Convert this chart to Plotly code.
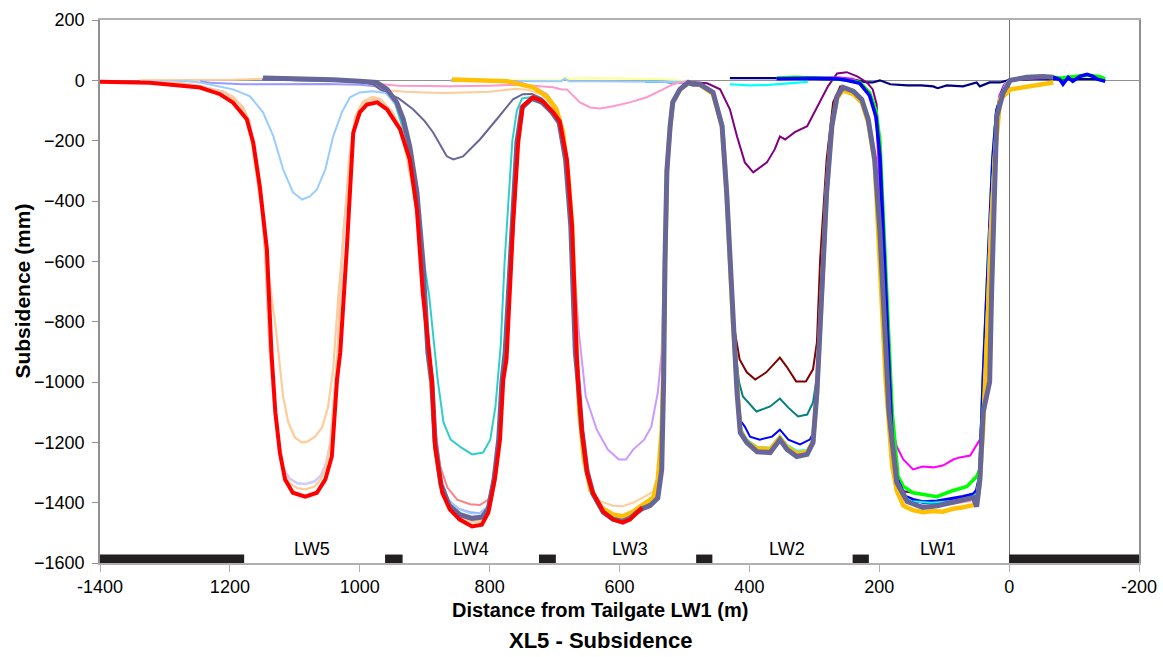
import plotly.graph_objects as go

# ---------------- data (distance m, subsidence mm) ----------------
navy_pts = [(430,7),(400,8),(358,7),(300,5),(265,2),(250,0),(234,0),(219,-7),(210,-7),(199,0),(183,-13),(157,-17),(135,-17),(117,-20),(110,-26),(96,-17),(71,-20),(50,-7),(45,-20),(30,-7),(14,-7),(2,0),(-20,3),(-50,5),(-80,3),(-110,5),(-140,3)]
cyan1_pts = [(430,-13),(400,-17),(370,-15),(340,-10),(310,-5)]
purple_pts = [(507,-3),(465,-10),(445,-30),(430,-96),(419,-186),(407,-272),(394,-305),(373,-272),(361,-229),(353,-186),(345,-196),(330,-172),(311,-152),(304,-123),(291,-73),(279,-20),(265,23),(250,27),(234,13),(219,-7),(210,-30),(204,-80),(199,-300),(190,-900),(180,-1250),(170,-1360),(148,-1367),(133,-1373),(111,-1380),(91,-1363),(65,-1346),(50,-1313),(45,-1290),(40,-1000),(30,-500),(25,-262),(19,-100),(9,-30),(0,0)]
magenta_pts = [(358,5),(300,8),(265,10),(240,5),(225,-20),(212,-60),(204,-150),(199,-370),(190,-800),(180,-1150),(173,-1214),(163,-1257),(148,-1290),(133,-1280),(117,-1283),(102,-1277),(86,-1257),(76,-1250),(60,-1244),(45,-1191),(40,-1048),(35,-800),(28,-400),(22,-150),(15,-50),(8,-15),(0,0),(-30,5),(-60,8)]
green_pts = [(358,8),(330,10),(300,8),(280,7),(265,5),(250,0),(230,-7),(215,-40),(205,-100),(199,-200),(190,-600),(180,-1100),(171,-1313),(163,-1346),(148,-1367),(133,-1373),(111,-1380),(91,-1363),(65,-1346),(50,-1313),(45,-1290),(40,-1000),(30,-500),(25,-262),(19,-100),(9,-30),(0,0),(-20,8),(-40,10),(-60,12),(-80,8),(-100,12),(-120,18),(-140,12),(-148,5)]
bluethick_pts = [(358,5),(300,7),(265,5),(250,0),(230,-10),(215,-50),(205,-120),(199,-250),(190,-700),(180,-1200),(173,-1320),(160,-1380),(148,-1390),(133,-1398),(111,-1395),(91,-1388),(71,-1380),(55,-1372),(50,-1360),(45,-1310),(40,-1000),(30,-500),(25,-262),(19,-100),(9,-30),(0,0),(-27,10),(-52,13),(-68,10),(-78,3),(-83,-13),(-91,10),(-98,-3),(-109,13),(-120,20),(-129,13),(-137,3),(-148,-3)]
darkred_pts = [(560,-3),(520,-5),(500,-8),(476,-13),(456,-40),(442,-152),(435,-371),(425,-800),(415,-925),(404,-968),(391,-992),(374,-968),(353,-919),(343,-948),(328,-998),(313,-998),(302,-958),(296,-869),(291,-594),(281,-262),(271,-73),(260,-20),(245,-30),(230,-55),(217,-125),(207,-260),(199,-600),(190,-1000),(182,-1250),(172,-1370),(150,-1395),(120,-1400),(90,-1395),(60,-1385),(50,-1370),(45,-1300),(38,-1000),(30,-500),(22,-200),(15,-60),(5,-10),(0,0)]
teal_pts = [(560,-3),(520,-5),(500,-8),(476,-13),(456,-40),(442,-152),(435,-371),(425,-816),(416,-1000),(410,-1048),(402,-1068),(389,-1098),(368,-1081),(353,-1055),(340,-1085),(325,-1114),(311,-1108),(302,-1068),(296,-982),(291,-816),(281,-371),(273,-152),(265,-53),(256,-23),(240,-36),(227,-63),(217,-129),(207,-262),(199,-600),(190,-1000),(182,-1250),(172,-1370),(150,-1395),(120,-1400),(90,-1395),(60,-1385),(50,-1370),(45,-1300),(38,-1000),(30,-500),(22,-200),(15,-60),(5,-10),(0,0)]
bluethin_pts = [(560,-3),(520,-5),(500,-8),(476,-13),(456,-40),(442,-152),(435,-371),(425,-816),(419,-1035),(413,-1130),(407,-1148),(399,-1181),(384,-1191),(365,-1181),(353,-1158),(340,-1191),(322,-1207),(307,-1191),(299,-1158),(296,-1035),(291,-816),(281,-371),(273,-152),(265,-53),(256,-23),(240,-36),(227,-63),(217,-129),(207,-262),(199,-600),(190,-1000),(182,-1250),(172,-1370),(150,-1395),(120,-1400),(90,-1395),(60,-1385),(50,-1370),(45,-1300),(38,-1000),(30,-500),(22,-200),(15,-60),(5,-10),(0,0)]
cyan2_pts = [(560,-3),(520,-5),(500,-8),(476,-13),(456,-40),(442,-152),(435,-371),(425,-816),(419,-1035),(414,-1150),(404,-1190),(388,-1215),(368,-1218),(353,-1178),(342,-1208),(327,-1228),(311,-1225),(302,-1190),(296,-1035),(291,-816),(281,-371),(273,-152),(265,-53),(256,-23),(240,-36),(227,-63),(217,-129),(207,-262),(199,-600),(190,-1000),(182,-1250),(172,-1370),(150,-1395),(120,-1400),(90,-1395),(60,-1385),(50,-1370),(45,-1300),(38,-1000),(30,-500),(22,-200),(15,-60),(5,-10),(0,0)]
slatethick_pts = [(1149,8),(1092,7),(1041,2),(1000,-3),(974,-7),(958,-30),(943,-73),(933,-129),(923,-219),(912,-371),(903,-594),(895,-902),(889,-1000),(884,-1200),(875,-1340),(862,-1410),(846,-1440),(827,-1452),(812,-1448),(802,-1420),(793,-1320),(786,-1190),(781,-1000),(776,-900),(766,-483),(758,-206),(750,-90),(735,-60),(720,-72),(704,-106),(693,-140),(683,-262),(675,-483),(668,-902),(664,-992),(658,-1160),(650,-1295),(641,-1370),(625,-1432),(610,-1455),(595,-1462),(584,-1452),(573,-1432),(565,-1420),(553,-1410),(541,-1385),(535,-1290),(533,-1101),(532,-992),(530,-600),(527,-300),(522,-152),(518,-73),(507,-30),(494,-7),(487,-13),(476,-13),(456,-40),(442,-152),(435,-371),(425,-816),(419,-1035),(414,-1168),(404,-1201),(388,-1231),(368,-1234),(353,-1191),(342,-1224),(327,-1247),(311,-1240),(302,-1201),(296,-1035),(291,-816),(281,-371),(273,-152),(265,-53),(256,-23),(240,-36),(227,-63),(217,-129),(207,-262),(199,-500),(192,-800),(185,-1100),(180,-1201),(173,-1333),(157,-1396),(142,-1406),(133,-1416),(111,-1410),(91,-1400),(71,-1393),(55,-1383),(50,-1413),(45,-1323),(40,-1100),(30,-1000),(27,-703),(22,-262),(19,-119),(9,-40),(-2,0),(-27,10),(-52,13),(-68,10)]
lightyellow_pts = [(860,0),(760,0),(700,0),(690,0),(684,10),(678,5),(640,7),(600,5),(558,5),(530,3),(510,0),(496,-3)]
lightbluetop_pts = [(860,-2),(760,-2),(720,-3),(700,-3),(690,-3),(684,5),(678,-3),(640,-3),(600,-3),(560,-3),(530,-3),(507,-3),(496,-5)]
pink_pts = [(990,-5),(970,-12),(940,-18),(900,-20),(860,-20),(800,-18),(760,-15),(738,-17),(702,-23),(689,-30),(681,-30),(661,-73),(645,-90),(630,-93),(610,-86),(584,-73),(558,-56),(533,-30),(518,-13),(496,-3),(476,-15),(456,-45),(442,-152),(435,-371),(425,-816),(419,-1035),(414,-1165),(404,-1201),(388,-1226),(368,-1230),(353,-1190),(342,-1222),(327,-1243),(311,-1238),(302,-1201),(296,-1035),(291,-816),(281,-371),(273,-152),(265,-53),(256,-23),(240,-36),(227,-63),(217,-129),(207,-262),(199,-600),(190,-1000),(182,-1250),(172,-1375),(150,-1405),(120,-1410),(90,-1405),(60,-1395),(50,-1380),(45,-1300),(38,-1000),(30,-500),(22,-200),(15,-60),(5,-10),(0,0)]
lightpurple_pts = [(860,0),(760,-3),(733,-20),(712,-45),(697,-90),(687,-160),(679,-300),(673,-483),(667,-700),(663,-826),(652,-1048),(635,-1158),(618,-1224),(601,-1257),(590,-1257),(579,-1224),(562,-1191),(551,-1148),(541,-1035),(535,-900),(532,-600),(528,-300),(522,-152),(518,-73),(507,-30),(494,-7),(476,-15),(456,-45),(442,-152),(435,-371),(425,-816),(419,-1035),(414,-1165),(404,-1201),(388,-1226),(368,-1230),(353,-1190),(342,-1222),(327,-1243),(311,-1238),(302,-1201),(296,-1035),(291,-816),(281,-371),(273,-152),(265,-53),(256,-23)]
peach3_pts = [(1000,-3),(980,-15),(958,-33),(930,-38),(900,-40),(870,-42),(840,-40),(800,-38),(780,-33),(760,-28),(740,-32),(720,-47),(705,-80),(693,-150),(683,-300),(675,-500),(668,-900),(663,-1100),(656,-1270),(645,-1350),(630,-1395),(610,-1410),(595,-1412),(579,-1400),(564,-1383),(548,-1363),(541,-1310),(535,-1150),(533,-992),(530,-600),(527,-300),(522,-152),(518,-73),(507,-30),(494,-10),(476,-15),(456,-45),(442,-152),(435,-371),(425,-816),(419,-1035),(414,-1168),(404,-1203),(388,-1228),(368,-1232),(353,-1192),(342,-1224),(327,-1245),(311,-1240),(302,-1203),(296,-1035),(291,-816),(281,-371),(273,-152),(265,-53),(256,-23)]
gold_pts = [(858,3),(800,0),(773,-3),(733,-23),(712,-53),(697,-96),(687,-172),(679,-318),(673,-483),(666,-902),(662,-1100),(655,-1250),(645,-1357),(630,-1413),(610,-1440),(595,-1446),(579,-1430),(564,-1406),(548,-1383),(541,-1323),(535,-1158),(533,-992),(530,-600),(527,-300),(522,-152),(518,-73),(507,-30),(494,-10),(476,-15),(456,-45),(442,-152),(435,-371),(425,-816),(419,-1035),(414,-1160),(404,-1198),(388,-1220),(368,-1222),(353,-1185),(342,-1216),(327,-1236),(311,-1232),(302,-1198),(296,-1035),(291,-816),(281,-371),(273,-152),(265,-60),(256,-33),(240,-46),(227,-73),(217,-139),(207,-272),(199,-600),(190,-1000),(180,-1280),(173,-1360),(163,-1410),(148,-1425),(133,-1432),(117,-1428),(102,-1430),(86,-1420),(71,-1415),(55,-1408),(48,-1380),(45,-1320),(40,-1150),(35,-900),(28,-500),(22,-250),(17,-140),(14,-63),(-2,-30),(-27,-20),(-52,-13),(-68,-7)]
peachC_pts = [(1338,0),(1250,0),(1195,2),(1149,5),(1092,5),(1041,0),(1000,-3),(974,-8),(958,-32),(943,-75),(933,-130),(923,-222),(912,-375),(903,-600),(895,-902),(889,-1000),(884,-1205),(875,-1345),(862,-1418),(846,-1450),(827,-1463),(812,-1458),(802,-1425),(793,-1322),(786,-1190),(781,-1000),(776,-900),(766,-483),(758,-206),(750,-90),(735,-60),(720,-72),(704,-106),(693,-140),(683,-262),(675,-483),(668,-902),(664,-992),(658,-1160),(650,-1300),(641,-1370),(625,-1420),(610,-1438),(595,-1442),(579,-1430),(564,-1410),(548,-1393),(541,-1335),(535,-1160),(533,-992),(530,-600),(527,-300),(522,-152),(518,-73),(507,-30),(494,-7)]
periwinkle_pts = [(1246,-3),(1230,-8),(1180,-13),(1100,-13),(1050,-12),(1000,-15),(975,-20),(958,-40),(943,-80),(933,-135),(923,-225),(912,-380),(903,-600),(895,-902),(889,-1000),(884,-1180),(875,-1320),(864,-1390),(848,-1420),(830,-1432),(815,-1435),(802,-1410),(793,-1320),(786,-1190),(781,-1000),(776,-900),(766,-483),(758,-206),(750,-90),(735,-60),(720,-72),(704,-106),(693,-140),(683,-262),(675,-483),(668,-902),(664,-992),(658,-1160),(650,-1300),(641,-1370),(625,-1425),(610,-1443),(595,-1450),(579,-1438),(564,-1413),(548,-1393),(541,-1330),(535,-1160),(533,-992),(530,-600),(527,-300),(522,-152),(518,-73),(507,-30),(494,-7)]
salmon_pts = [(1150,3),(1050,0),(1000,-3),(975,-15),(958,-35),(943,-75),(933,-130),(923,-220),(912,-371),(903,-594),(895,-902),(889,-1000),(884,-1150),(876,-1280),(865,-1350),(850,-1390),(830,-1405),(815,-1408),(802,-1390),(792,-1323),(786,-1190),(781,-1000),(776,-900),(766,-483),(758,-206),(750,-90),(735,-62),(720,-72),(704,-106),(693,-140),(683,-262),(675,-483),(668,-902),(664,-992),(658,-1160),(650,-1300),(641,-1370),(625,-1425),(610,-1443),(595,-1450),(579,-1438),(564,-1413),(548,-1393),(541,-1330),(535,-1160),(533,-992),(530,-600),(527,-300),(522,-152),(518,-73),(507,-30),(494,-7)]
turquoise_pts = [(1150,3),(1050,0),(1000,-3),(975,-10),(958,-30),(945,-80),(935,-150),(925,-260),(915,-400),(904,-560),(893,-716),(880,-992),(871,-1134),(860,-1191),(844,-1217),(827,-1240),(810,-1234),(799,-1191),(791,-1081),(783,-882),(777,-604),(771,-400),(765,-200),(758,-100),(750,-60),(735,-55),(720,-66),(704,-105),(693,-140),(683,-262),(675,-483),(668,-902),(664,-1000),(658,-1160),(650,-1300),(641,-1370),(625,-1428),(610,-1446),(595,-1452),(579,-1440),(564,-1415),(548,-1395),(541,-1330),(535,-1160),(533,-992),(530,-600),(527,-300),(522,-152),(518,-73),(507,-30),(494,-7)]
slatethin_pts = [(1150,3),(1050,0),(1000,-3),(980,-12),(969,-30),(940,-60),(918,-96),(900,-135),(887,-173),(866,-252),(856,-262),(841,-252),(815,-196),(789,-129),(764,-63),(749,-46),(735,-45),(720,-60),(704,-100),(693,-140),(683,-262),(675,-483),(668,-902),(664,-992),(658,-1160),(650,-1300),(641,-1370),(625,-1425),(610,-1445),(595,-1455),(579,-1440),(564,-1415),(548,-1395),(541,-1330),(535,-1160),(533,-992),(530,-600),(527,-300),(522,-152),(518,-73),(507,-30),(494,-7)]
lightblue5_pts = [(1338,-2),(1266,-3),(1246,-7),(1195,-30),(1169,-53),(1149,-106),(1133,-186),(1118,-295),(1103,-371),(1089,-395),(1077,-385),(1066,-362),(1053,-295),(1041,-186),(1027,-103),(1015,-56),(1000,-40),(980,-36),(960,-42),(945,-80),(933,-135),(923,-225),(912,-380),(903,-600),(895,-902),(889,-1000),(884,-1180),(875,-1320),(864,-1390),(848,-1420),(830,-1435),(815,-1436),(802,-1410),(793,-1320),(786,-1190),(781,-1000),(776,-900),(766,-483),(758,-206),(750,-90),(735,-60),(720,-72),(704,-106),(693,-140),(683,-262),(675,-483),(668,-902),(664,-992),(658,-1160),(650,-1300),(641,-1370),(625,-1420),(610,-1440),(595,-1445),(579,-1432),(565,-1410)]
peachA_pts = [(1338,-3),(1280,-8),(1246,-18),(1210,-40),(1185,-80),(1170,-150),(1160,-300),(1152,-420),(1143,-600),(1129,-826),(1118,-1048),(1110,-1134),(1100,-1184),(1089,-1201),(1080,-1197),(1069,-1181),(1058,-1151),(1049,-1085),(1041,-959),(1033,-716),(1024,-494),(1016,-250),(1007,-120),(995,-70),(980,-55),(968,-62),(955,-95),(940,-150),(928,-250),(915,-400),(905,-600),(897,-902),(890,-1050),(885,-1230),(876,-1350),(864,-1420),(848,-1445),(830,-1462),(815,-1460),(802,-1430),(793,-1330),(786,-1190),(781,-1000),(776,-900),(766,-483),(758,-206),(750,-90),(735,-60),(720,-72),(704,-106),(693,-140),(683,-262),(675,-483),(668,-902),(664,-992),(658,-1160),(650,-1290),(641,-1360),(625,-1415),(610,-1435),(595,-1440),(579,-1425),(565,-1405)]
lavender_pts = [(1338,-3),(1280,-8),(1246,-20),(1210,-38),(1195,-55),(1180,-90),(1170,-135),(1160,-270),(1152,-400),(1146,-560),(1139,-880),(1133,-1050),(1125,-1200),(1118,-1285),(1108,-1320),(1096,-1336),(1084,-1338),(1070,-1330),(1060,-1310),(1052,-1270),(1045,-1200),(1040,-1050),(1034,-900),(1025,-500),(1012,-210),(1004,-120),(992,-75),(978,-62),(965,-70),(950,-105),(938,-152),(923,-262),(912,-428),(903,-703),(893,-925),(887,-1000),(882,-1214),(871,-1360),(859,-1410),(845,-1435),(827,-1448),(812,-1445),(802,-1420),(792,-1323),(784,-1191),(779,-992),(774,-925),(764,-483),(756,-206),(749,-86),(733,-58),(718,-70),(702,-106),(692,-136),(681,-262),(673,-483),(666,-902),(664,-992),(658,-1158),(650,-1295),(641,-1362),(625,-1420),(610,-1445),(595,-1452),(584,-1445),(573,-1428),(565,-1410)]
peachB_pts = [(1338,-3),(1280,-8),(1246,-20),(1210,-38),(1195,-55),(1180,-90),(1170,-135),(1160,-270),(1152,-400),(1146,-560),(1139,-880),(1133,-1050),(1125,-1200),(1118,-1295),(1108,-1335),(1096,-1352),(1084,-1356),(1070,-1347),(1060,-1322),(1052,-1282),(1045,-1200),(1040,-1050),(1034,-900),(1025,-500),(1012,-210),(1004,-120),(992,-75),(978,-62),(965,-70),(950,-105),(938,-152),(923,-262),(912,-428),(903,-703),(893,-925),(887,-1000),(882,-1214),(871,-1360),(859,-1415),(845,-1445),(827,-1465),(812,-1462),(802,-1425),(792,-1323),(784,-1191),(779,-992),(774,-925),(764,-483),(756,-206),(749,-86),(733,-58),(718,-70),(702,-106),(692,-136),(681,-262),(673,-483),(666,-902),(664,-992),(658,-1158),(650,-1295),(641,-1362),(625,-1420),(610,-1445),(595,-1452),(584,-1445),(573,-1428),(565,-1410)]
red_pts = [(1400,-5),(1323,-8),(1246,-24),(1215,-46),(1195,-74),(1174,-129),(1164,-207),(1154,-350),(1143,-560),(1136,-902),(1130,-1100),(1123,-1234),(1115,-1323),(1103,-1367),(1084,-1380),(1066,-1367),(1053,-1323),(1043,-1247),(1035,-992),(1030,-902),(1020,-560),(1010,-173),(1000,-106),(989,-80),(973,-73),(958,-96),(938,-162),(923,-262),(912,-428),(903,-703),(892,-925),(889,-992),(884,-1214),(873,-1367),(861,-1423),(846,-1456),(827,-1479),(812,-1473),(802,-1433),(792,-1323),(784,-1191),(779,-992),(774,-925),(764,-483),(756,-206),(749,-86),(733,-56),(718,-70),(702,-106),(692,-136),(681,-262),(673,-483),(666,-902),(664,-992),(658,-1158),(650,-1300),(641,-1367),(625,-1430),(610,-1456),(595,-1466),(584,-1456),(573,-1433),(565,-1416)]

# panel / pillar annotations
pillar_from = [1400, 961, 724, 482, 241, 0]
pillar_to = [1178, 934, 698, 457, 216, -200]
lw_names = ["LW5", "LW4", "LW3", "LW2", "LW1"]
lw_label_x = [1073, 829, 584, 342, 110]
lw_label_y = -1555

x_tickvals = [1400, 1200, 1000, 800, 600, 400, 200, 0, -200]
x_ticktext = ["-1400", "1200", "1000", "800", "600", "400", "200", "0", "-200"]
y_tickvals = [200, 0, -200, -400, -600, -800, -1000, -1200, -1400, -1600]

# ---------------- styles (draw order = bottom to top) ----------------
series = [
    (navy_pts, "#000080", 2.2),
    (cyan1_pts, "#00FFFF", 2.2),
    (purple_pts, "#800080", 2),
    (magenta_pts, "#FF00FF", 2),
    (green_pts, "#00FF00", 3.5),
    (bluethick_pts, "#0000FF", 3.5),
    (darkred_pts, "#800000", 2),
    (teal_pts, "#008080", 2),
    (bluethin_pts, "#0000FF", 2),
    (cyan2_pts, "#00FFFF", 2),
    (lightyellow_pts, "#FFFF99", 2.2),
    (lightbluetop_pts, "#99CCFF", 2.2),
    (pink_pts, "#FF99CC", 2),
    (lightpurple_pts, "#CC99FF", 2),
    (peach3_pts, "#FFCC99", 2),
    (peachC_pts, "#FFCC99", 2),
    (periwinkle_pts, "#9999FF", 2),
    (salmon_pts, "#FF8080", 2),
    (turquoise_pts, "#33CCCC", 2),
    (slatethin_pts, "#666699", 2),
    (lightblue5_pts, "#99CCFF", 2),
    (peachA_pts, "#FFCC99", 2.2),
    (lavender_pts, "#CCCCFF", 2.5),
    (peachB_pts, "#FFCC99", 2.2),
    (gold_pts, "#FFC000", 4.5),
    (slatethick_pts, "#666699", 5),
    (red_pts, "#FF0000", 4),
]

fig = go.Figure()
for pts, color, width in series:
    xs = [p[0] for p in pts]
    ys = [p[1] for p in pts]
    fig.add_trace(go.Scatter(x=xs, y=ys, mode="lines",
                             line=dict(color=color, width=width),
                             hoverinfo="skip", showlegend=False))

for a, b in zip(pillar_from, pillar_to):
    fig.add_shape(type="rect", xref="x", yref="y", x0=a, x1=b, y0=-1600, y1=-1572,
                  fillcolor="#231F20", line=dict(width=0), layer="above")

font_family = "Liberation Sans, Arial, sans-serif"
for name, lx in zip(lw_names, lw_label_x):
    fig.add_annotation(x=lx, y=lw_label_y, xref="x", yref="y", text=name, showarrow=False,
                       xanchor="center", yanchor="middle",
                       font=dict(family=font_family, size=18, color="#000000"))

fig.add_annotation(x=0.4815, y=-0.087, xref="paper", yref="paper",
                   text="<b>Distance from Tailgate LW1 (m)</b>", showarrow=False,
                   xanchor="center", yanchor="middle",
                   font=dict(family=font_family, size=20, color="#000000"))
fig.add_annotation(x=0.4815, y=-0.142, xref="paper", yref="paper",
                   text="<b>XL5 - Subsidence</b>", showarrow=False,
                   xanchor="center", yanchor="middle",
                   font=dict(family=font_family, size=22, color="#000000"))
fig.add_annotation(x=-0.075, y=0.5, xref="paper", yref="paper",
                   text="<b>Subsidence (mm)</b>", showarrow=False, textangle=-90,
                   xanchor="center", yanchor="middle",
                   font=dict(family=font_family, size=21, color="#000000"))

fig.update_layout(
    width=1163, height=657,
    margin=dict(l=100, r=24, t=20, b=94, autoexpand=False),
    paper_bgcolor="#FFFFFF", plot_bgcolor="#FFFFFF",
    font=dict(family=font_family, size=18, color="#000000"),
    showlegend=False,
)
fig.update_xaxes(range=[1400, -200], tickvals=x_tickvals, ticktext=x_ticktext,
                 automargin=False,
                 showgrid=False, zeroline=True, zerolinecolor="#707070", zerolinewidth=1,
                 showline=True, linecolor="#B0B0B0", linewidth=1.5, mirror=True,
                 ticks="outside", ticklen=7, tickcolor="#B0B0B0",
                 tickfont=dict(family=font_family, size=18, color="#000000"))
fig.update_yaxes(range=[-1600, 200], tickvals=y_tickvals,
                 automargin=False,
                 showgrid=False, zeroline=True, zerolinecolor="#909090", zerolinewidth=1,
                 showline=True, linecolor="#909090", linewidth=1.5, mirror=True,
                 ticks="outside", ticklen=6, tickcolor="#909090", ticklabelstandoff=4,
                 tickfont=dict(family=font_family, size=18, color="#000000"))

fig.write_html("out.html", config={"displayModeBar": False},
               post_script="document.body.style.margin='0px';")
